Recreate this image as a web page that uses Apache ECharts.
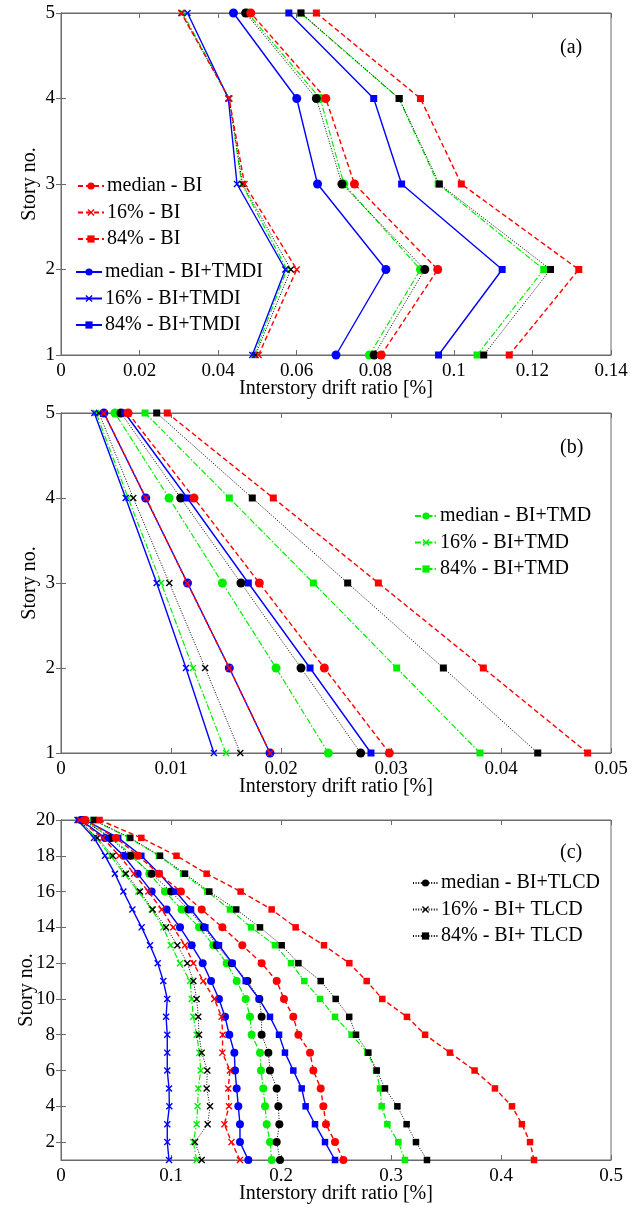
<!DOCTYPE html>
<html>
<head>
<meta charset="UTF-8">
<style>
	html, body { margin: 0; padding: 0; background: #fff; }
	#chart { width: 638px; height: 1215px; }
</style>
</head>
<body>
	<div id="chart"></div>
	<script src="https://cdn.jsdelivr.net/npm/echarts@6/dist/echarts.min.js"></script>
<script>
	// story numbers
	var storiesAB = [1, 2, 3, 4, 5];
	var storiesC = [1, 2, 3, 4, 5, 6, 7, 8, 9, 10, 11, 12, 13, 14, 15, 16, 17, 18, 19, 20];

	// panel (a)
	var aMedBI    = [0.0815, 0.0959, 0.0747, 0.0674, 0.0483];
	var a16BI     = [0.0503, 0.0600, 0.0467, 0.0428, 0.0306];
	var a84BI     = [0.1141, 0.1318, 0.1019, 0.0915, 0.0650];
	var aMedTMDI  = [0.0700, 0.0827, 0.0653, 0.0600, 0.0439];
	var a16TMDI   = [0.0487, 0.0571, 0.0448, 0.0426, 0.0322];
	var a84TMDI   = [0.0961, 0.1123, 0.0867, 0.0796, 0.0580];
	var aMedTMD   = [0.0785, 0.0915, 0.0720, 0.0660, 0.0475];
	var a16TMD    = [0.0492, 0.0575, 0.0460, 0.0428, 0.0310];
	var a84TMD    = [0.1059, 0.1229, 0.0960, 0.0860, 0.0610];
	var aMedTLCD  = [0.0797, 0.0926, 0.0715, 0.0650, 0.0470];
	var a16TLCD   = [0.0495, 0.0585, 0.0462, 0.0428, 0.0307];
	var a84TLCD   = [0.1076, 0.1246, 0.0963, 0.0861, 0.0611];

	// panel (b)
	var bMedBI    = [0.02985, 0.02394, 0.01803, 0.01209, 0.0061];
	var b16BI     = [0.0190, 0.0153, 0.01148, 0.00773, 0.0039];
	var b84BI     = [0.04788, 0.03839, 0.02885, 0.0193, 0.00966];
	var bMedTMDI  = [0.0190, 0.0153, 0.0115, 0.0077, 0.0039];
	var b16TMDI   = [0.0139, 0.01136, 0.0087, 0.00588, 0.00303];
	var b84TMDI   = [0.02818, 0.02264, 0.01703, 0.01148, 0.0058];
	var bMedTMD   = [0.0243, 0.01955, 0.01467, 0.00982, 0.0049];
	var b16TMD    = [0.0150, 0.0120, 0.0091, 0.0061, 0.0032];
	var b84TMD    = [0.03809, 0.03052, 0.02294, 0.0153, 0.00764];
	var bMedTLCD  = [0.02724, 0.02182, 0.01636, 0.01088, 0.00545];
	var b16TLCD   = [0.0163, 0.0131, 0.00985, 0.00657, 0.00345];
	var b84TLCD   = [0.04334, 0.03476, 0.02606, 0.01739, 0.0087];

	// panel (c)
	var cMedBI   = [0.2567, 0.2491, 0.2409, 0.2385, 0.2361, 0.2294, 0.2264, 0.2158, 0.2112, 0.2027, 0.1961, 0.1824, 0.1648, 0.1467, 0.1279, 0.1090, 0.0890, 0.0700, 0.0500, 0.0220];
	var c16BI    = [0.1627, 0.1550, 0.1485, 0.1527, 0.1520, 0.1536, 0.1467, 0.1470, 0.1460, 0.1394, 0.1294, 0.1203, 0.1127, 0.1020, 0.0915, 0.0794, 0.0664, 0.0530, 0.0380, 0.0170];
	var c84BI    = [0.4300, 0.4264, 0.4190, 0.4100, 0.3945, 0.3760, 0.3536, 0.3310, 0.3145, 0.2921, 0.2779, 0.2621, 0.2391, 0.2133, 0.1915, 0.1633, 0.1324, 0.1050, 0.0730, 0.0350];
	var cMedTMDI = [0.1703, 0.1627, 0.1627, 0.1612, 0.1597, 0.1582, 0.1576, 0.1530, 0.1491, 0.1436, 0.1364, 0.1288, 0.1188, 0.1082, 0.0960, 0.0824, 0.0697, 0.0570, 0.0400, 0.0180];
	var c16TMDI  = [0.0982, 0.0966, 0.0966, 0.0985, 0.0982, 0.0966, 0.0966, 0.0966, 0.0955, 0.0966, 0.0930, 0.0879, 0.0809, 0.0733, 0.0649, 0.0567, 0.0490, 0.0400, 0.0300, 0.0150];
	var c84TMDI  = [0.2491, 0.2400, 0.2309, 0.2224, 0.2188, 0.2112, 0.2036, 0.1982, 0.1900, 0.1800, 0.1679, 0.1557, 0.1436, 0.1312, 0.1182, 0.1042, 0.0894, 0.0730, 0.0520, 0.0220];
	var cMedTMD  = [0.1915, 0.1900, 0.1870, 0.1855, 0.1839, 0.1818, 0.1809, 0.1733, 0.1718, 0.1679, 0.1597, 0.1506, 0.1385, 0.1255, 0.1097, 0.0945, 0.0803, 0.0650, 0.0460, 0.0200];
	var c16TMD   = [0.1233, 0.1203, 0.1233, 0.1242, 0.1248, 0.1270, 0.1258, 0.1233, 0.1203, 0.1188, 0.1173, 0.1082, 0.0997, 0.0930, 0.0824, 0.0703, 0.0576, 0.0450, 0.0320, 0.0160];
	var c84TMD   = [0.3127, 0.3067, 0.2967, 0.2915, 0.2900, 0.2864, 0.2785, 0.2642, 0.2491, 0.2355, 0.2212, 0.2091, 0.1945, 0.1728, 0.1536, 0.1330, 0.1110, 0.0890, 0.0620, 0.0290];
	var cMedTLCD = [0.1991, 0.1961, 0.1985, 0.1976, 0.1961, 0.1900, 0.1885, 0.1824, 0.1824, 0.1803, 0.1695, 0.1553, 0.1415, 0.1300, 0.1158, 0.1000, 0.0824, 0.0630, 0.0450, 0.0200];
	var c16TLCD  = [0.1279, 0.1218, 0.1333, 0.1355, 0.1324, 0.1330, 0.1279, 0.1255, 0.1248, 0.1233, 0.1203, 0.1148, 0.1058, 0.0955, 0.0833, 0.0718, 0.0590, 0.0470, 0.0330, 0.0160];
	var c84TLCD  = [0.3327, 0.3227, 0.3142, 0.3058, 0.2945, 0.2870, 0.2794, 0.2682, 0.2620, 0.2497, 0.2361, 0.2158, 0.2006, 0.1809, 0.1593, 0.1348, 0.1127, 0.0900, 0.0630, 0.0300];

	var xTicksA = [0, 0.14, 0.02];
	var xTicksB = [0, 0.05, 0.01];
	var xTicksC = [0, 0.5, 0.1];
	var yTicksC = [2, 4, 6, 8, 10, 12, 14, 16, 18, 20];

	var FONT = 'Liberation Serif';
	var AXC = '#6b6b6b';
	var XMARK = 'path://M0,0.14L0.14,0L0.5,0.36L0.86,0L1,0.14L0.64,0.5L1,0.86L0.86,1L0.5,0.64L0.14,1L0,0.86L0.36,0.5Z';

	var styles = {
		BI:   { color: '#ff0000', type: [5, 3], width: 1.4, z: 5 },
		TMDI: { color: '#0000ff', type: 'solid', width: 1.4, z: 4 },
		TMD:  { color: '#00ee00', type: [6, 2, 1.5, 2], width: 1.2, z: 2 },
		TLCD: { color: '#000000', type: [1, 1.6], width: 1, z: 3 }
	};
	var names = {
		BI:   ['median - BI', '16% - BI', '84% - BI'],
		TMDI: ['median - BI+TMDI', '16% - BI+TMDI', '84% - BI+TMDI'],
		TMD:  ['median - BI+TMD', '16% - BI+TMD', '84% - BI+TMD'],
		TLCD: ['median - BI+TLCD', '16% - BI+ TLCD', '84% - BI+ TLCD']
	};

	var series = [];
	function add(gi, key, k, vals, stories) {
		var s = styles[key];
		var small = gi === 2;
		var sym = [ 'circle', XMARK, 'rect' ][k];
		var size = [ small ? 8 : 9, 7, small ? 6.5 : 7 ][k];
		series.push({
			type: 'line',
			name: names[key][k],
			xAxisIndex: gi * 2,
			yAxisIndex: gi * 2,
			data: vals.map(function (v, i) { return [v, stories[i]]; }),
			symbol: sym,
			symbolSize: size,
			showAllSymbol: true,
			animation: false,
			z: s.z,
			lineStyle: { color: s.color, type: s.type, width: s.width },
			itemStyle: { color: s.color, opacity: 1 }
		});
	}
	var setA = { BI: [aMedBI, a16BI, a84BI], TMDI: [aMedTMDI, a16TMDI, a84TMDI], TMD: [aMedTMD, a16TMD, a84TMD], TLCD: [aMedTLCD, a16TLCD, a84TLCD] };
	var setB = { BI: [bMedBI, b16BI, b84BI], TMDI: [bMedTMDI, b16TMDI, b84TMDI], TMD: [bMedTMD, b16TMD, b84TMD], TLCD: [bMedTLCD, b16TLCD, b84TLCD] };
	var setC = { BI: [cMedBI, c16BI, c84BI], TMDI: [cMedTMDI, c16TMDI, c84TMDI], TMD: [cMedTMD, c16TMD, c84TMD], TLCD: [cMedTLCD, c16TLCD, c84TLCD] };
	[setA, setB, setC].forEach(function (set, gi) {
		['TMD', 'TLCD', 'TMDI', 'BI'].forEach(function (key) {
			for (var k = 0; k < 3; k++) add(gi, key, k, set[key][k], gi === 2 ? storiesC : storiesAB);
		});
	});

	var grids = [
		{ left: 61, right: 27, top: 13, height: 342 },
		{ left: 61, right: 27, top: 413, height: 340 },
		{ left: 61, right: 27, top: 820, height: 340 }
	];
	grids.forEach(function (g) { g.show = true; g.borderColor = AXC; g.borderWidth = 1; });

	var xAxes = [], yAxes = [];
	[xTicksA, xTicksB, xTicksC].forEach(function (t, gi) {
		var dec = gi === 2 ? 1 : 2;
		xAxes.push({
			type: 'value', gridIndex: gi, min: t[0], max: t[1], interval: t[2],
			name: 'Interstory drift ratio [%]', nameLocation: 'middle', nameGap: 24,
			nameMoveOverlap: false,
			nameTextStyle: { fontFamily: FONT, fontSize: 20, color: '#000' },
			axisLine: { lineStyle: { color: AXC } },
			axisTick: { inside: true, length: 5, lineStyle: { color: AXC } },
			axisLabel: { fontFamily: FONT, fontSize: 19, color: '#000', margin: 7,
				formatter: function (v) { return String(+v.toFixed(dec)); } },
			splitLine: { show: false }
		});
		xAxes.push({
			type: 'value', gridIndex: gi, position: 'top', min: t[0], max: t[1], interval: t[2],
			axisLine: { lineStyle: { color: AXC } },
			axisTick: { inside: true, length: 5, lineStyle: { color: AXC } },
			axisLabel: { show: false }, splitLine: { show: false }
		});
		var yl = {
			type: 'value', gridIndex: gi, min: 1, max: gi === 2 ? 20 : 5,
			name: 'Story no.', nameLocation: 'middle', nameGap: gi === 2 ? 24 : 21, nameRotate: 90,
			nameMoveOverlap: false,
			nameTextStyle: { fontFamily: FONT, fontSize: 20, color: '#000' },
			axisLine: { lineStyle: { color: AXC } },
			axisTick: { inside: true, length: 5, lineStyle: { color: AXC } },
			axisLabel: { fontFamily: FONT, fontSize: 19, color: '#000', margin: 6 },
			splitLine: { show: false }
		};
		var yr = {
			type: 'value', gridIndex: gi, position: 'right', min: 1, max: gi === 2 ? 20 : 5,
			axisLine: { lineStyle: { color: AXC } },
			axisTick: { inside: true, length: 5, lineStyle: { color: AXC } },
			axisLabel: { show: false }, splitLine: { show: false }
		};
		if (gi === 2) {
			yl.axisLabel.customValues = yTicksC;
			yl.axisTick.customValues = yTicksC;
			yr.axisTick.customValues = yTicksC;
			yr.axisLabel.customValues = yTicksC;
		} else {
			yl.interval = 1;
			yr.interval = 1;
		}
		yAxes.push(yl, yr);
	});

	function legend(list, left, top, w) {
		return {
			data: list, orient: 'vertical', left: left, top: top, padding: 0,
			itemWidth: w, itemHeight: 9, itemGap: 6.5, selectedMode: false,
			textStyle: { fontFamily: FONT, fontSize: 20, color: '#000', lineHeight: 20, padding: [0, 0, 0, -2] }
		};
	}

	var myChart = echarts.init(document.getElementById('chart'), null, { renderer: 'canvas' });
	myChart.setOption({
		animation: false,
		textStyle: { fontFamily: FONT },
		grid: grids,
		xAxis: xAxes,
		yAxis: yAxes,
		legend: [
			legend(names.BI, 77, 176, 26),
			legend(names.TMDI, 75, 262, 26),
			legend(names.TMD, 414, 506, 22),
			legend(names.TLCD, 412, 873, 25)
		],
		graphic: [
			{ type: 'text', left: 560, top: 38, style: { text: '(a)', font: '20px "Liberation Serif"', fill: '#000' } },
			{ type: 'text', left: 560, top: 438, style: { text: '(b)', font: '20px "Liberation Serif"', fill: '#000' } },
			{ type: 'text', left: 560, top: 843, style: { text: '(c)', font: '20px "Liberation Serif"', fill: '#000' } }
		],
		series: series
	});
</script>
</body>
</html>
